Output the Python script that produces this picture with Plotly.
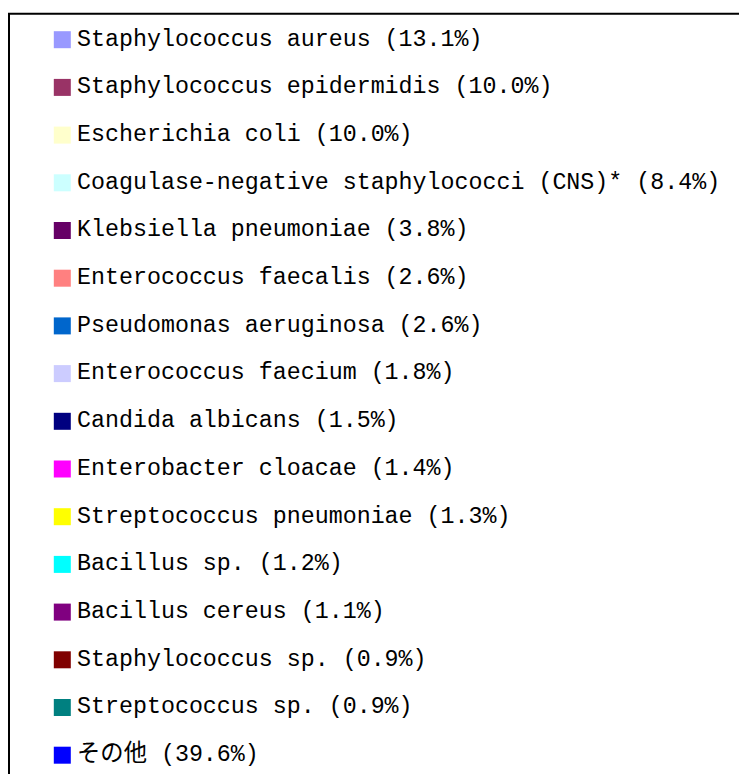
import plotly.graph_objects as go

organisms = [
    "Staphylococcus aureus",
    "Staphylococcus epidermidis",
    "Escherichia coli",
    "Coagulase-negative staphylococci (CNS)*",
    "Klebsiella pneumoniae",
    "Enterococcus faecalis",
    "Pseudomonas aeruginosa",
    "Enterococcus faecium",
    "Candida albicans",
    "Enterobacter cloacae",
    "Streptococcus pneumoniae",
    "Bacillus sp.",
    "Bacillus cereus",
    "Staphylococcus sp.",
    "Streptococcus sp.",
    "その他",
]
percents = [13.1, 10.0, 10.0, 8.4, 3.8, 2.6, 2.6, 1.8, 1.5, 1.4, 1.3, 1.2, 1.1, 0.9, 0.9, 39.6]
colors = [
    "#9999FF", "#993366", "#FFFFCC", "#CCFFFF", "#660066", "#FF8080",
    "#0066CC", "#CCCCFF", "#000080", "#FF00FF", "#FFFF00", "#00FFFF",
    "#800080", "#800000", "#008080", "#0000FF",
]

labels = [f"{n} ({p:.1f}%)" for n, p in zip(organisms, percents)]
rank = list(range(len(organisms)))

# page has an 8px body margin; figure sized to fill the 747x774 window
OFF = 8
W, H = 747 - OFF, 774 - OFF
row_px = 47.7
first_px = 39.7 - OFF
marker_x_px = 62.3 - OFF

fig = go.Figure()
# colour swatches
fig.add_trace(
    go.Scatter(
        x=[0] * len(rank),
        y=rank,
        mode="markers",
        marker=dict(symbol="square", size=17, color=colors, line=dict(width=0)),
        cliponaxis=False,
        hoverinfo="skip",
    )
)
# labels (transparent wider marker sets the text gap)
fig.add_trace(
    go.Scatter(
        x=[0] * len(rank),
        y=rank,
        mode="markers+text",
        marker=dict(symbol="square", size=22, color="rgba(0,0,0,0)", line=dict(width=0)),
        text=labels,
        textposition="middle right",
        textfont=dict(family="Liberation Mono, Noto Sans CJK JP, monospace", size=23.3, color="#000000"),
        cliponaxis=False,
        hoverinfo="skip",
    )
)

y_top = -first_px / row_px
y_bot = y_top + H / row_px
fig.update_layout(
    width=W,
    height=H,
    margin=dict(l=0, r=0, t=0, b=0, pad=0),
    paper_bgcolor="white",
    plot_bgcolor="white",
    showlegend=False,
    xaxis=dict(visible=False, range=[-marker_x_px / W, 1 - marker_x_px / W], fixedrange=True),
    yaxis=dict(visible=False, range=[y_bot, y_top], fixedrange=True),
    shapes=[
        dict(
            type="rect", xref="paper", yref="paper",
            x0=(9 - OFF) / W, x1=1.05, y0=-0.05, y1=1 - (13.7 - OFF) / H,
            line=dict(color="#000000", width=2), fillcolor="rgba(0,0,0,0)",
        )
    ],
)

fig.write_html("out.html")
